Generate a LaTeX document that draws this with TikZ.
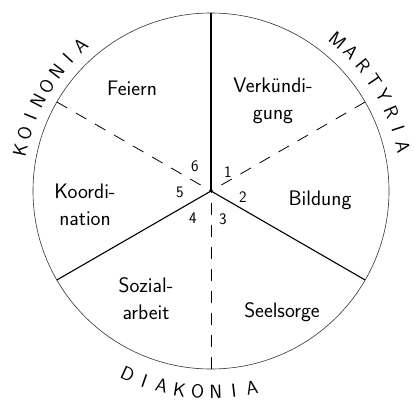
\documentclass[tikz,border=0pt]{standalone}
\usetikzlibrary{calc}
\begin{document}
\begin{tikzpicture}[x=1pt,y=1pt,
  rim/.style={draw=black!80, line width=0.6pt},
  spoke/.style={line width=1.1pt},
  dspoke/.style={line width=0.8pt, dash pattern=on 12pt off 10pt},
  field/.style={font=\fontsize{21}{27}\selectfont\sffamily, align=center, inner sep=0pt},
  num/.style={font=\fontsize{16}{16}\selectfont\sffamily, inner sep=0pt},
  letter/.style={font=\fontsize{19}{19}\selectfont\sffamily, inner sep=0pt}]
\useasboundingbox (0,0) rectangle (414,401);
\coordinate (O) at (211,210);
\draw[rim] (O) circle[radius=178];
\foreach \a in {90,210,330} {
  \coordinate (S\a) at ($(O)+(\a:178)$);
  \draw[spoke] (O) -- (S\a);
}
\foreach \a in {30,150,270} {
  \coordinate (D\a) at ($(O)+(\a:178)$);
  \draw[dspoke] (D\a) -- (O);
}
% fields
\node[field] (feiern) at (132,313) {Feiern};
\node[field] (verk) at (273,300) {Verkündi-\\gung};
\node[field] (bild) at (320,201) {Bildung};
\node[field] (koord) at (85,196) {Koordi-\\nation};
\node[field] (sozial) at (146,102) {Sozial-\\arbeit};
\node[field] (seel) at (282,89) {Seelsorge};
% numbers
\node[num] (n1) at (228,229) {1};
\node[num] (n2) at (243,204) {2};
\node[num] (n3) at (223,182) {3};
\node[num] (n4) at (193,183) {4};
\node[num] (n5) at (180,209) {5};
\node[num] (n6) at (195,235) {6};
% outer labels
\foreach \l [count=\i] in {K,O,I,N,O,N,I,A} {
  \pgfmathsetmacro\ang{168-(\i-1)*36/7}
  \node[letter, rotate=\ang-90] (koi\i) at ($(O)+(\ang:195)$) {\l};
}
\foreach \l [count=\i] in {M,A,R,T,Y,R,I,A} {
  \pgfmathsetmacro\ang{50-(\i-1)*37/7}
  \node[letter, rotate=\ang-90] (mar\i) at ($(O)+(\ang:197)$) {\l};
}
\foreach \l [count=\i] in {D,I,A,K,O,N,I,A} {
  \pgfmathsetmacro\ang{245.5+(\i-1)*36.2/7}
  \node[letter, rotate=\ang+90] (dia\i) at ($(O)+(\ang:201)$) {\l};
}
\end{tikzpicture}
\end{document}
